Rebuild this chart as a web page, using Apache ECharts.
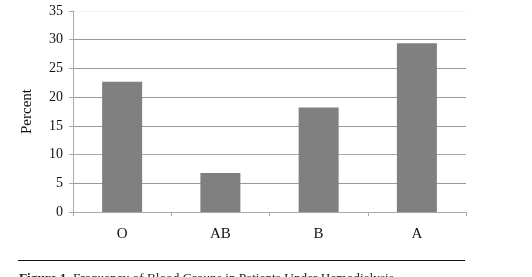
<!DOCTYPE html>
<html>
<head>
<meta charset="utf-8">
<script src="https://cdn.jsdelivr.net/npm/echarts@6/dist/echarts.min.js"></script>
<style>
html,body{margin:0;padding:0;background:#fff;}
#chart{width:532px;height:277px;}
</style>
</head>
<body>
<div id="chart"></div>
<script>
const categories = ['O', 'AB', 'B', 'A'];
const percentValues = [22.7, 6.8, 18.2, 29.4];
const yAxisName = 'Percent';
const captionBold = 'Figure 1.';
const captionText = ' Frequency of Blood Groups in Patients Under Hemodialysis';

const chart = echarts.init(document.getElementById('chart'), null, {renderer: 'canvas'});
const serif = '"Liberation Serif", "DejaVu Serif", serif';
chart.setOption({
  animation: false,
  backgroundColor: '#ffffff',
  grid: {left: 73, right: 66, top: 11, bottom: 65, containLabel: false},
  xAxis: {
    type: 'category',
    data: categories,
    boundaryGap: true,
    axisLine: {show: true, lineStyle: {color: '#aaaaaa', width: 1}},
    axisTick: {show: true, alignWithLabel: false, length: 4, lineStyle: {color: '#aaaaaa'}},
    axisLabel: {color: '#111', fontFamily: serif, fontSize: 15, margin: 15}
  },
  yAxis: {
    type: 'value',
    min: 0, max: 35, interval: 5,
    name: yAxisName,
    nameLocation: 'middle',
    nameGap: 38,
    nameTextStyle: {color: '#111', fontFamily: serif, fontSize: 15},
    axisLine: {show: true, lineStyle: {color: '#aaaaaa', width: 1}},
    axisTick: {show: true, length: 4, lineStyle: {color: '#aaaaaa'}},
    axisLabel: {color: '#111', fontFamily: serif, fontSize: 14, margin: 10},
    splitLine: {show: true, lineStyle: {color: ['#aaaaaa', '#999999', '#aaaaaa', '#999999', '#999999', '#999999', '#999999', '#f2f2f2'], width: 1}}
  },
  series: [{
    type: 'bar',
    data: percentValues,
    barWidth: 40,
    itemStyle: {color: '#808081'}
  }],
  graphic: [
    {type: 'line', shape: {x1: 18, y1: 260.5, x2: 465, y2: 260.5}, style: {stroke: '#111', lineWidth: 1}},
    {type: 'text', left: 19, top: 272, style: {
      rich: {b: {fontWeight: 'bold', fontFamily: serif, fontSize: 13.3, fill: '#222'}, n: {fontFamily: serif, fontSize: 13.3, fill: '#222'}},
      text: '{b|' + captionBold + '}{n|' + captionText + '}'
    }}
  ]
});
</script>
</body>
</html>
